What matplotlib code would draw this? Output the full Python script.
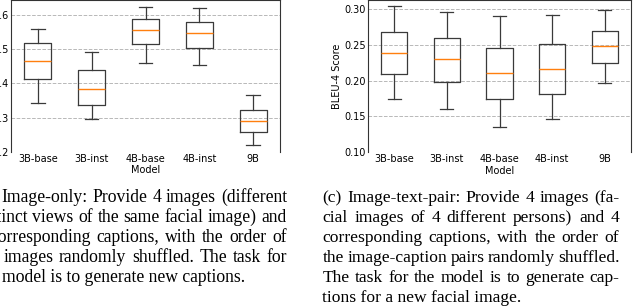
import matplotlib
matplotlib.use("Agg")
import matplotlib.pyplot as plt

# box plot summaries
models = ["3B-base", "3B-inst", "4B-base", "4B-inst", "9B"]

left_whislo = [0.343, 0.297, 0.458, 0.453, 0.221]
left_q1 = [0.412, 0.336, 0.514, 0.504, 0.257]
left_med = [0.466, 0.383, 0.557, 0.548, 0.289]
left_q3 = [0.517, 0.439, 0.589, 0.580, 0.321]
left_whishi = [0.559, 0.492, 0.623, 0.621, 0.367]

bleu_whislo = [0.174, 0.161, 0.136, 0.146, 0.197]
bleu_q1 = [0.209, 0.1985, 0.175, 0.182, 0.224]
bleu_med = [0.238, 0.2306, 0.210, 0.2166, 0.248]
bleu_q3 = [0.2675, 0.2595, 0.246, 0.251, 0.2689]
bleu_whishi = [0.3046, 0.296, 0.2898, 0.2916, 0.2986]

caption_b = ["(b) Image-only: Provide 4 images (different",
             "distinct views of the same facial image) and",
             "4 corresponding captions, with the order of",
             "the images randomly shuffled. The task for",
             "the model is to generate new captions."]
caption_c = ["(c) Image-text-pair: Provide 4 images (fa-",
             "cial images of 4 different persons) and 4",
             "corresponding captions, with the order of",
             "the image-caption pairs randomly shuffled.",
             "The task for the model is to generate cap-",
             "tions for a new facial image."]

W, H = 640, 306
fig = plt.figure(figsize=(6.4, 3.06), dpi=100)
plt.rcParams['font.family'] = ['DejaVu Sans']


def make_stats(lo, q1, med, q3, hi):
    stats = []
    for i in range(len(models)):
        stats.append({"whislo": lo[i], "q1": q1[i], "med": med[i],
                      "q3": q3[i], "whishi": hi[i], "fliers": [],
                      "label": models[i]})
    return stats


def draw_box(ax, stats, ylim, ylabel=None):
    line = dict(color="#3a3a3a", linewidth=0.9)
    ax.bxp(stats, boxprops=line, whiskerprops=line, capprops=line,
           medianprops=dict(color="#ff7f0e", linewidth=1.0))
    ax.set_ylim(ylim)
    ax.yaxis.grid(True, linestyle="--", color="#b8b8b8", linewidth=0.7)
    ax.set_axisbelow(True)
    ax.tick_params(axis="both", length=0, pad=1.5, labelsize=7)
    ax.set_xlabel("Model", fontsize=7, labelpad=1)
    if ylabel:
        ax.set_ylabel(ylabel, fontsize=7, labelpad=2)
    for s in ["left", "top", "right"]:
        ax.spines[s].set_color("#333333")
        ax.spines[s].set_linewidth(0.8)
    ax.spines["bottom"].set_visible(False)


ax1 = fig.add_axes([11 / W, 1 - 152 / H, 269 / W, 152 / H])
draw_box(ax1, make_stats(left_whislo, left_q1, left_med, left_q3, left_whishi),
         (0.2, 0.643))

ax2 = fig.add_axes([368 / W, 1 - 152.3 / H, 263 / W, 152.6 / H])
draw_box(ax2, make_stats(bleu_whislo, bleu_q1, bleu_med, bleu_q3, bleu_whishi),
         (0.10, 0.313), ylabel="BLEU-4 Score")

renderer = fig.canvas.get_renderer()


def word_width(w, size):
    t = fig.text(0, 0, w, fontsize=size, family="Liberation Serif")
    bb = t.get_window_extent(renderer)
    t.remove()
    return bb.width


def justified(lines, left, right, base0, size, step=20):
    for k, line in enumerate(lines):
        y = 1 - (base0 + k * step) / H
        words = line.split(" ")
        if k == len(lines) - 1:
            fig.text(left / W, y, line, fontsize=size,
                     family="Liberation Serif", va="baseline")
            continue
        widths = [word_width(w, size) for w in words]
        gap = (right - left - sum(widths)) / (len(words) - 1)
        gap = max(gap, 2.5)
        x = left
        for w, wd in zip(words, widths):
            fig.text(x / W, y, w, fontsize=size,
                     family="Liberation Serif", va="baseline")
            x += wd + gap


justified(caption_b, -24, 287, 202, 12.7)
justified(caption_c, 322.5, 619.5, 202, 12.6)

fig.savefig("out.png", dpi=100)
